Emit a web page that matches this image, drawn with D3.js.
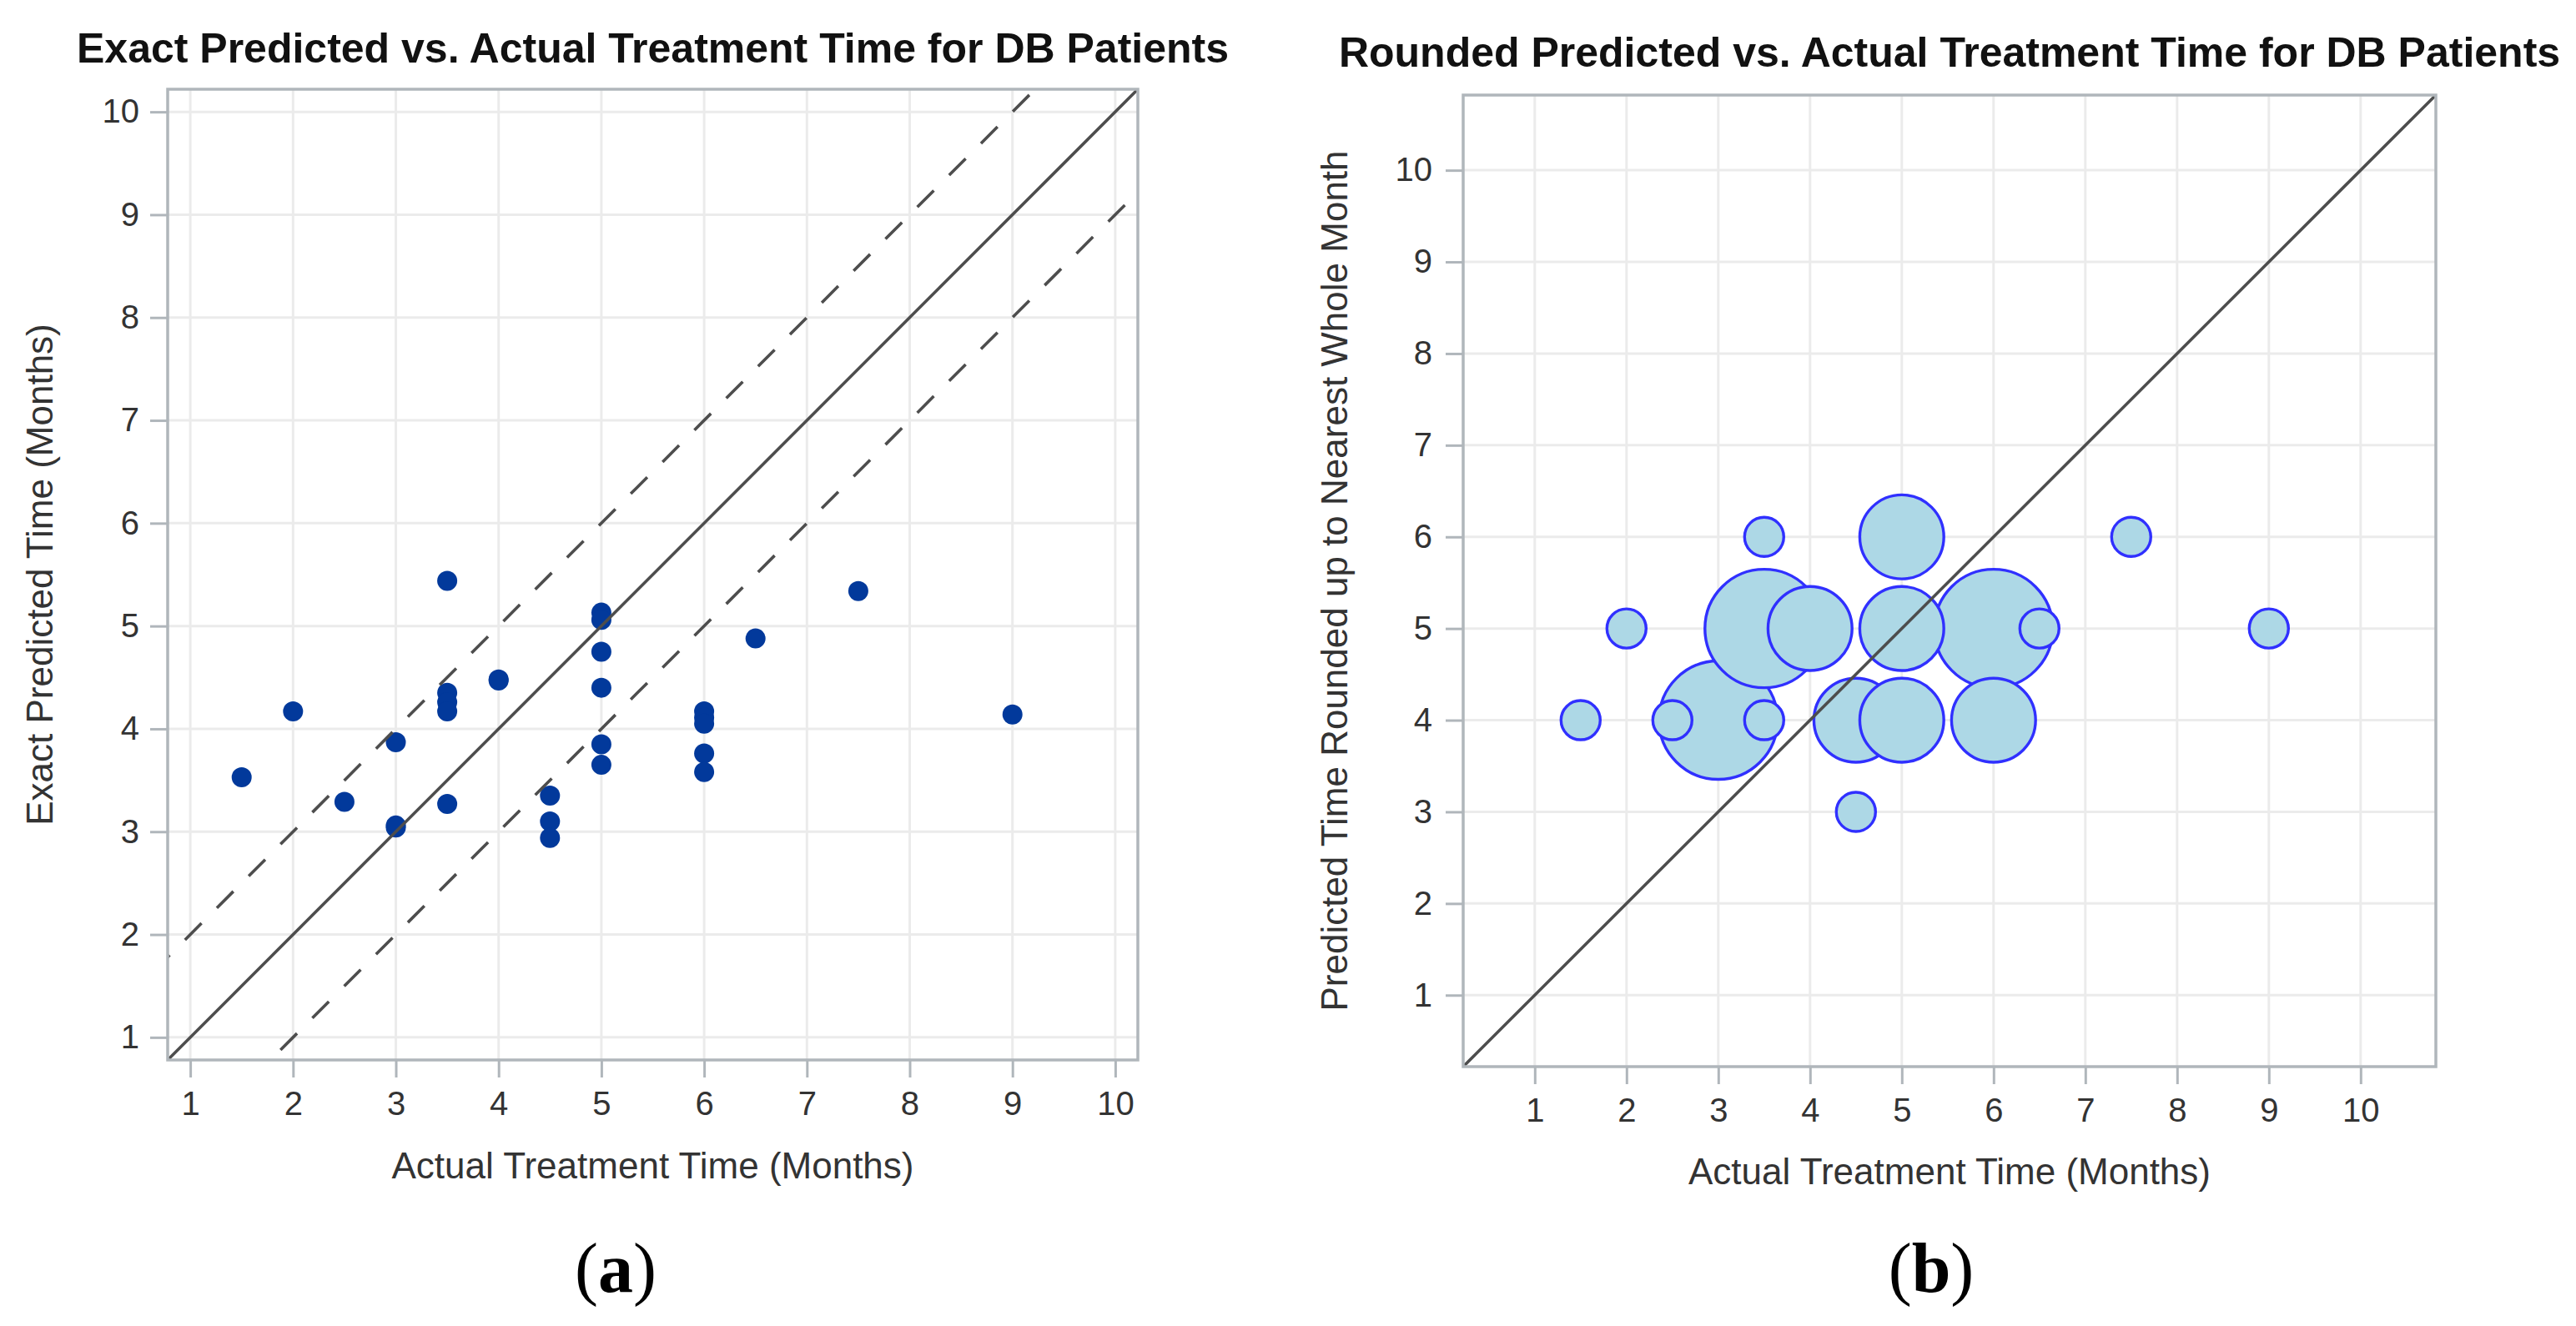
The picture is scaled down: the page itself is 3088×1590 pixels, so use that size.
<!DOCTYPE html>
<html>
<head>
<meta charset="utf-8">
<script src="https://cdn.jsdelivr.net/npm/d3@7"></script>
<style>
  html, body { margin: 0; padding: 0; background: #ffffff; }
  svg { display: block; }
  text { font-family: "Liberation Sans", Arial, sans-serif; }
</style>
</head>
<body>
<script>
// ---------------- DATA ----------------
const tickValues = [1, 2, 3, 4, 5, 6, 7, 8, 9, 10];

// Panel (a): exact predicted vs actual treatment time (months)
const exactActual = [1.5, 2, 2.5, 3, 3, 3, 3.5, 3.5, 3.5, 3.5, 3.5, 4, 4, 4.5, 4.5, 4.5,
                     5, 5, 5, 5, 5, 5, 6, 6, 6, 6, 6, 6.5, 7.5, 9];
const exactPredicted = [3.53, 4.17, 3.29, 3.87, 3.06, 3.04, 5.44, 4.35, 4.26, 4.17, 3.27, 4.48, 4.47,
                        3.35, 3.10, 2.94, 5.13, 5.06, 4.75, 4.40, 3.85, 3.65, 4.17, 4.11, 4.05,
                        3.76, 3.58, 4.88, 5.34, 4.14];
// reference lines: y = x + offset
const refOffsets = [0, 1, -1];

// Panel (b): rounded predicted vs actual, bubble size = number of patients
const roundActual    = [1.5, 2, 2.5, 3, 3.5, 3.5, 3.5, 4, 4.5, 4.5, 5, 5, 5, 6, 6, 6.5, 7.5, 9];
const roundPredicted = [4,   5, 4,   4, 6,   5,   4,   5, 4,   3,   6, 5, 4, 5, 4, 5,   6,   5];
const roundCount     = [1,   1, 1,   3, 1,   3,   1,   2, 2,   1,   2, 2, 2, 3, 2, 1,   1,   1];

// ---------------- LAYOUT / STYLE ----------------
const W = 3088, H = 1590;
const svg = d3.select("body").append("svg").attr("width", W).attr("height", H);

const frameColor = "#b0b6bb";
const gridColor = "#ebebeb";
const textColor = "#333333";

function drawPanel(o) {
  const x = d3.scaleLinear().domain(o.domain).range([o.left, o.right]);
  const y = d3.scaleLinear().domain(o.domain).range([o.bottom, o.top]);
  const g = svg.append("g");

  const clipId = "clip-" + o.id;
  svg.append("defs").append("clipPath").attr("id", clipId)
    .append("rect").attr("x", o.left).attr("y", o.top)
    .attr("width", o.right - o.left).attr("height", o.bottom - o.top);

  // grid
  g.append("g").selectAll("line").data(tickValues).join("line")
    .attr("x1", d => x(d)).attr("x2", d => x(d))
    .attr("y1", o.top).attr("y2", o.bottom)
    .attr("stroke", gridColor).attr("stroke-width", 3);
  g.append("g").selectAll("line").data(tickValues).join("line")
    .attr("y1", d => y(d)).attr("y2", d => y(d))
    .attr("x1", o.left).attr("x2", o.right)
    .attr("stroke", gridColor).attr("stroke-width", 3);

  // axes
  const xa = g.append("g").attr("transform", `translate(0,${o.bottom})`)
    .call(d3.axisBottom(x).tickValues(tickValues).tickSize(21).tickSizeOuter(0).tickPadding(17));
  const ya = g.append("g").attr("transform", `translate(${o.left},0)`)
    .call(d3.axisLeft(y).tickValues(tickValues).tickSize(21).tickSizeOuter(0).tickPadding(o.yPad));
  [xa, ya].forEach(a => {
    a.select(".domain").remove();
    a.selectAll(".tick line").attr("stroke", frameColor).attr("stroke-width", 3);
    a.selectAll(".tick text").attr("fill", textColor)
      .style("font-family", '"Liberation Sans", Arial, sans-serif').style("font-size", "40px");
  });

  const plot = g.append("g").attr("clip-path", `url(#${clipId})`);
  o.marks(plot, x, y);

  // reference lines
  const lines = g.append("g").attr("clip-path", `url(#${clipId})`);
  o.offsets.forEach(off => {
    const d0 = o.domain[0] - 2, d1 = o.domain[1] + 2;
    lines.append("line")
      .attr("x1", x(d0)).attr("y1", y(d0 + off))
      .attr("x2", x(d1)).attr("y2", y(d1 + off))
      .attr("stroke", "#4d4d4d").attr("stroke-width", 3.6)
      .attr("stroke-dasharray", off === 0 ? null : "28,26");
  });

  // frame
  g.append("rect").attr("x", o.left).attr("y", o.top)
    .attr("width", o.right - o.left).attr("height", o.bottom - o.top)
    .attr("fill", "none").attr("stroke", frameColor).attr("stroke-width", 3.5);

  // title
  g.append("text").attr("x", (o.left + o.right) / 2).attr("y", o.titleY)
    .attr("text-anchor", "middle").attr("font-weight", "bold").attr("font-size", 50)
    .attr("fill", "#111111").text(o.title);
  // x label
  g.append("text").attr("x", (o.left + o.right) / 2).attr("y", o.xLabelY)
    .attr("text-anchor", "middle").attr("font-size", 44).attr("fill", textColor).text(o.xLabel);
  // y label
  g.append("text")
    .attr("transform", `translate(${o.yLabelX},${(o.top + o.bottom) / 2}) rotate(-90)`)
    .attr("text-anchor", "middle").attr("font-size", 44).attr("fill", textColor).text(o.yLabel);
  // panel letter: plain parentheses, bold letter
  const lt = g.append("text").attr("x", o.letterX).attr("y", 1549)
    .attr("text-anchor", "middle").attr("font-size", 84)
    .style("font-family", '"Liberation Serif", "Times New Roman", serif')
    .attr("fill", "#000");
  lt.append("tspan").text("(");
  lt.append("tspan").attr("font-weight", "bold").text(o.letter);
  lt.append("tspan").text(")");
}

// Panel (a)
drawPanel({
  id: "a",
  left: 201, right: 1364, top: 107, bottom: 1271,
  domain: [0.78, 10.22],
  yPad: 13,
  offsets: refOffsets,
  title: "Exact Predicted vs. Actual Treatment Time for DB Patients",
  titleY: 75,
  xLabel: "Actual Treatment Time (Months)", xLabelY: 1413,
  yLabel: "Exact Predicted Time (Months)", yLabelX: 63,
  letter: "a", letterX: 738,
  marks: (p, x, y) => {
    const pts = exactActual.map((a, i) => ({ a, p: exactPredicted[i] }));
    p.selectAll("circle").data(pts).join("circle")
      .attr("cx", d => x(d.a)).attr("cy", d => y(d.p)).attr("r", 12)
      .attr("fill", "#02399b");
  }
});

// Panel (b)
drawPanel({
  id: "b",
  left: 1754, right: 2920, top: 114, bottom: 1279,
  domain: [0.22, 10.82],
  yPad: 16,
  offsets: [refOffsets[0]],
  title: "Rounded Predicted vs. Actual Treatment Time for DB Patients",
  titleY: 80,
  xLabel: "Actual Treatment Time (Months)", xLabelY: 1420,
  yLabel: "Predicted Time Rounded up to Nearest Whole Month", yLabelX: 1615,
  letter: "b", letterX: 2315,
  marks: (p, x, y) => {
    const r = d3.scaleSqrt().domain([1, 3]).range([23.5, 71]);
    const pts = roundActual.map((a, i) => ({ a, p: roundPredicted[i], n: roundCount[i], i }));
    pts.sort((u, v) => d3.descending(u.n, v.n) || d3.ascending(u.i, v.i));
    p.selectAll("circle").data(pts).join("circle")
      .attr("cx", d => x(d.a)).attr("cy", d => y(d.p)).attr("r", d => r(d.n))
      .attr("fill", "#add8e6").attr("stroke", "#3030ff").attr("stroke-width", 3.4);
  }
});
</script>
</body>
</html>
